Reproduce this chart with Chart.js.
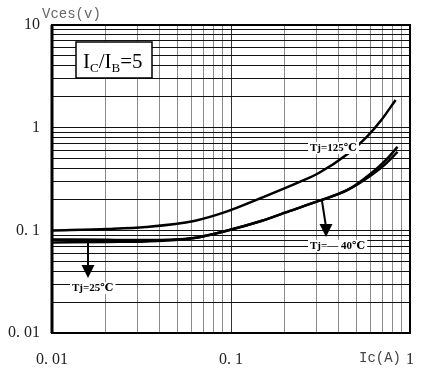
<!DOCTYPE html>
<html>
<head>
<meta charset="utf-8">
<script src="https://cdn.jsdelivr.net/npm/chart.js@4.4.1/dist/chart.umd.min.js"></script>
<style>
  body { margin: 0; background: #fff; }
</style>
</head>
<body>
<canvas id="myChart" width="431" height="372"></canvas>
<script>
// datos (Ic en A, Vces en V)
const ic125 = [0.01, 0.0205, 0.0335, 0.0622, 0.0934, 0.1475, 0.2417, 0.3094, 0.448, 0.574, 0.690, 0.831];
const vce125 = [0.0998, 0.1032, 0.1079, 0.1234, 0.1511, 0.2067, 0.296, 0.362, 0.555, 0.815, 1.18, 1.86];

const icLow = [0.01, 0.0205, 0.0335, 0.0622, 0.0934, 0.1475, 0.2137, 0.3094, 0.448, 0.610, 0.7345, 0.852];
const vceM40 = [0.0815, 0.0808, 0.0805, 0.0843, 0.0987, 0.1234, 0.1545, 0.1933, 0.2473, 0.3463, 0.448, 0.580];
const vce25 = [0.0762, 0.0771, 0.0780, 0.0843, 0.0987, 0.1234, 0.1545, 0.1933, 0.2473, 0.3622, 0.4846, 0.649];

const xTickLabels = { "0.01": "0. 01", "0.1": "0. 1", "1": "1" };
const yTickLabels = { "0.01": "0. 01", "0.1": "0. 1", "1": "1", "10": "10" };

const serif = "'Liberation Serif', 'DejaVu Serif', serif";
const mono = "'Liberation Mono', 'DejaVu Sans Mono', monospace";

const pts = (xs, ys) => xs.map((x, i) => ({ x: x, y: ys[i] }));

const isDecade = (v) => Math.abs(Math.log10(v) - Math.round(Math.log10(v))) < 1e-6;
const keyOf = (v) => String(Math.pow(10, Math.round(Math.log10(v))));

// ticks 1..9 x 10^n para la rejilla log
const logTicks = (min, max) => {
  const out = [];
  for (let e = Math.round(Math.log10(min)); e < Math.round(Math.log10(max)); e++) {
    for (let m = 1; m < 10; m++) out.push({ value: m * Math.pow(10, e) });
  }
  out.push({ value: max });
  return out;
};

const extras = {
  id: "extras",
  afterDraw(chart) {
    const c = chart.ctx;
    const a = chart.chartArea;
    c.save();
    // marco
    c.strokeStyle = "#000";
    c.lineWidth = 2;
    c.strokeRect(a.left, a.top, a.right - a.left, a.bottom - a.top);
    c.lineWidth = 3;
    c.beginPath(); c.moveTo(a.left, a.top); c.lineTo(a.left, a.bottom); c.stroke();

    // titulos de ejes
    c.fillStyle = "#666";
    c.font = "14px " + mono;
    c.textBaseline = "middle";
    c.textAlign = "left";
    c.fillText("Vces(v)", 42, 14);
    c.fillStyle = "#444";
    c.textAlign = "center";
    c.fillText("Ic(A)", 380, 358);

    // caja IC/IB=5
    c.fillStyle = "#fff";
    c.fillRect(76, 42, 76, 36);
    c.strokeStyle = "#000";
    c.lineWidth = 1.5;
    c.strokeRect(76, 42, 76, 36);
    c.fillStyle = "#000";
    c.textAlign = "left";
    c.textBaseline = "alphabetic";
    let x = 83;
    const big = "21px " + serif, small = "13px " + serif;
    c.font = big; c.fillText("I", x, 68); x += c.measureText("I").width;
    c.font = small; c.fillText("C", x, 72); x += c.measureText("C").width;
    c.font = big; c.fillText("/I", x, 68); x += c.measureText("/I").width;
    c.font = small; c.fillText("B", x, 72); x += c.measureText("B").width;
    c.font = big; c.fillText("=5", x, 68);

    // etiquetas de curvas
    c.font = "bold 11px " + serif;
    c.textBaseline = "middle";
    const tag = (t, tx, ty) => {
      const w = c.measureText(t).width;
      c.fillStyle = "#fff";
      c.fillRect(tx - 2, ty - 6, w + 4, 12);
      c.fillStyle = "#000";
      c.fillText(t, tx, ty);
    };
    tag("Tj=125\u2103", 310, 148);
    tag("Tj=\u2014 40\u2103", 310, 246);
    tag("Tj=25\u2103", 72, 288);

    // flechas
    const arrow = (x1, y1, x2, y2) => {
      c.strokeStyle = "#000";
      c.lineWidth = 2;
      c.beginPath(); c.moveTo(x1, y1); c.lineTo(x2, y2 - 10); c.stroke();
      c.fillStyle = "#000";
      c.beginPath();
      c.moveTo(x2, y2);
      c.lineTo(x2 - 6.5, y2 - 13);
      c.lineTo(x2 + 6.5, y2 - 13);
      c.closePath();
      c.fill();
    };
    arrow(88, 243, 88, 278);
    arrow(322, 201, 326, 237);
    c.restore();
  }
};

const lineStyle = {
  borderColor: "#000",
  borderWidth: 2.5,
  pointRadius: 0,
  fill: false,
  cubicInterpolationMode: "monotone"
};

new Chart(document.getElementById("myChart").getContext("2d"), {
  type: "line",
  data: {
    datasets: [
      { label: "Tj=125", data: pts(ic125, vce125), ...lineStyle },
      { label: "Tj=-40", data: pts(icLow, vceM40), ...lineStyle },
      { label: "Tj=25", data: pts(icLow, vce25), ...lineStyle }
    ]
  },
  options: {
    responsive: false,
    animation: false,
    layout: { padding: { top: 25, right: 6, left: 0, bottom: 0 } },
    plugins: { legend: { display: false }, tooltip: { enabled: false } },
    scales: {
      x: {
        type: "logarithmic",
        min: 0.01,
        max: 1,
        afterBuildTicks: (s) => { s.ticks = logTicks(0.01, 1); },
        afterFit: (s) => { s.height = 39; },
        border: { display: false },
        grid: {
          drawTicks: false,
          color: (ctx) => (ctx.tick && isDecade(ctx.tick.value) ? "#333" : "#8a8a8a"),
          lineWidth: 1
        },
        ticks: {
          autoSkip: false,
          maxRotation: 0,
          padding: 17,
          color: "#222",
          font: { family: serif, size: 16 },
          callback: (v) => (isDecade(v) ? xTickLabels[keyOf(v)] : "")
        }
      },
      y: {
        type: "logarithmic",
        min: 0.01,
        max: 10,
        afterBuildTicks: (s) => { s.ticks = logTicks(0.01, 10); },
        afterFit: (s) => { s.width = 52; },
        border: { display: false },
        grid: { drawTicks: false, color: "#111", lineWidth: 1 },
        ticks: {
          autoSkip: false,
          padding: 12,
          color: "#222",
          font: { family: serif, size: 16 },
          callback: (v) => (isDecade(v) ? yTickLabels[keyOf(v)] : "")
        }
      }
    }
  },
  plugins: [extras]
});
</script>
</body>
</html>
